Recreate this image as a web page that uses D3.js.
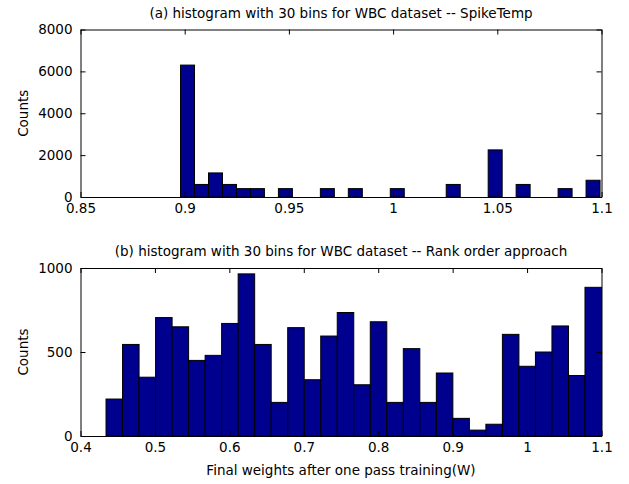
<!DOCTYPE html>
<html>
<head>
<meta charset="utf-8">
<script src="https://cdn.jsdelivr.net/npm/d3@7"></script>
<style>
  html, body { margin: 0; padding: 0; background: #fff; }
  svg text { font-family: "DejaVu Sans", Arial, sans-serif; fill: #000; }
</style>
</head>
<body>
<svg id="fig" width="629" height="484"></svg>
<script>
// Panel (a): SpikeTemp weights, 30 bins
const titleA = "(a) histogram with 30 bins for WBC dataset -- SpikeTemp";
const binRangeA = [0.898, 1.0993];
const countsA = [6300, 600, 1150, 600, 400, 400, 0, 400, 0, 0,
                 400, 0, 400, 0, 0, 400, 0, 0, 0, 600,
                 0, 0, 2250, 0, 600, 0, 0, 400, 0, 800];
const xDomainA = [0.85, 1.1];
const xTicksA = [0.85, 0.9, 0.95, 1, 1.05, 1.1];
const yDomainA = [0, 8000];
const yTicksA = [0, 2000, 4000, 6000, 8000];

// Panel (b): rank order approach weights, 30 bins
const titleB = "(b) histogram with 30 bins for WBC dataset -- Rank order approach";
const binRangeB = [0.4343, 1.1];
const countsB = [220, 545, 350, 705, 650, 450, 480, 670, 965, 545,
                 200, 645, 335, 595, 735, 305, 680, 200, 520, 200,
                 375, 105, 35, 70, 605, 415, 500, 655, 360, 885];
const xDomainB = [0.4, 1.1];
const xTicksB = [0.4, 0.5, 0.6, 0.7, 0.8, 0.9, 1, 1.1];
const yDomainB = [0, 1000];
const yTicksB = [0, 500, 1000];

const yLabel = "Counts";
const xLabel = "Final weights after one pass training(W)";

const svg = d3.select("#fig");
const barFill = "#00008f";
const fontSize = 13.5;
const fontFamily = "'DejaVu Sans', Arial, sans-serif";

function panel(opts) {
  const { left, right, top, bottom } = opts.box;
  const x = d3.scaleLinear().domain(opts.xDomain).range([left, right]);
  const y = d3.scaleLinear().domain(opts.yDomain).range([bottom, top]);
  const g = svg.append("g");

  // histogram bars from bin edges
  const n = opts.counts.length;
  const w = (opts.binRange[1] - opts.binRange[0]) / n;
  const bins = opts.counts.map((c, i) => ({
    x0: opts.binRange[0] + i * w,
    x1: opts.binRange[0] + (i + 1) * w,
    c
  }));
  g.selectAll("rect.bar").data(bins.filter(d => d.c > 0)).enter()
    .append("rect")
    .attr("class", "bar")
    .attr("x", d => x(d.x0))
    .attr("width", d => x(d.x1) - x(d.x0))
    .attr("y", d => y(d.c))
    .attr("height", d => y(0) - y(d.c))
    .attr("fill", barFill)
    .attr("stroke", "#000")
    .attr("stroke-width", 1);

  // axes: bottom/left with labels, top/right mirrors without labels; ticks inside
  const tl = 5;
  const fmt = d3.format("");
  const ax = [
    { a: d3.axisBottom(x).tickValues(opts.xTicks).tickFormat(fmt).tickSizeInner(-tl).tickSizeOuter(0).tickPadding(tl + 1), t: `translate(0,${bottom})` },
    { a: d3.axisTop(x).tickValues(opts.xTicks).tickFormat("").tickSizeInner(-tl).tickSizeOuter(0), t: `translate(0,${top})` },
    { a: d3.axisLeft(y).tickValues(opts.yTicks).tickFormat(fmt).tickSizeInner(-tl).tickSizeOuter(0).tickPadding(tl + 3), t: `translate(${left},0)` },
    { a: d3.axisRight(y).tickValues(opts.yTicks).tickFormat("").tickSizeInner(-tl).tickSizeOuter(0), t: `translate(${right},0)` }
  ];
  ax.forEach(d => {
    const ag = g.append("g").attr("transform", d.t).call(d.a);
    ag.select(".domain").attr("stroke", "#000");
    ag.selectAll(".tick line").attr("stroke", "#000");
    ag.selectAll(".tick text").attr("font-size", fontSize)
      .attr("font-family", fontFamily).attr("fill", "#000");
  });

  // title
  g.append("text")
    .attr("x", (left + right) / 2)
    .attr("y", top - 12)
    .attr("text-anchor", "middle")
    .attr("font-size", fontSize)
    .text(opts.title);

  // y label
  g.append("text")
    .attr("transform", `translate(28,${(top + bottom) / 2}) rotate(-90)`)
    .attr("text-anchor", "middle")
    .attr("font-size", fontSize)
    .text(yLabel);

  return { x, y };
}

panel({
  box: { left: 80.5, right: 601.5, top: 29.5, bottom: 197 },
  title: titleA, binRange: binRangeA, counts: countsA,
  xDomain: xDomainA, xTicks: xTicksA, yDomain: yDomainA, yTicks: yTicksA
});

panel({
  box: { left: 80.5, right: 601.5, top: 268, bottom: 436 },
  title: titleB, binRange: binRangeB, counts: countsB,
  xDomain: xDomainB, xTicks: xTicksB, yDomain: yDomainB, yTicks: yTicksB
});

svg.append("text")
  .attr("x", 341)
  .attr("y", 475)
  .attr("text-anchor", "middle")
  .attr("font-size", fontSize)
  .text(xLabel);
</script>
</body>
</html>
